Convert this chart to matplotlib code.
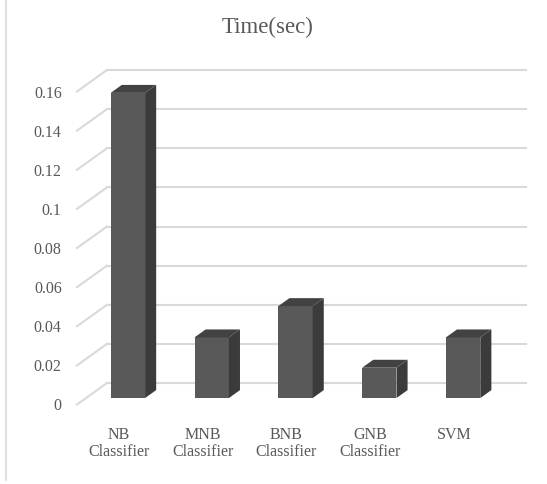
import matplotlib
matplotlib.use("Agg")
import matplotlib.pyplot as plt
from matplotlib.patches import Polygon
from matplotlib.lines import Line2D

categories = ["NB\nClassifier", "MNB\nClassifier", "BNB\nClassifier", "GNB\nClassifier", "SVM"]
times = [0.156, 0.031, 0.047, 0.0155, 0.031]
yticks = [0, 0.02, 0.04, 0.06, 0.08, 0.1, 0.12, 0.14, 0.16]
title = "Time(sec)"

W, H, DPI = 547, 484, 100
plt.rcParams['font.family'] = ['Liberation Serif', 'DejaVu Serif']
TXT = '#595959'
GRID = '#d9d9d9'
FRONT = '#595959'
SIDE = '#3b3b3b'
TOP = '#424242'

fig = plt.figure(figsize=(W / DPI, H / DPI), dpi=DPI)
fig.patch.set_facecolor('white')

# front plane in pixel coordinates (from top)
x_left, x_right = 77, 496
y_zero, y_top = 404.5, 91.5
ax = fig.add_axes([x_left / W, (H - y_zero) / H, (x_right - x_left) / W, (y_zero - y_top) / H])
ax.set_xlim(-0.5, len(categories) - 0.5)
ax.set_ylim(0, 0.16)
ax.set_facecolor('none')
for s in ax.spines.values():
    s.set_visible(False)

# depth offsets (pixels) -> data units
ppx = (x_right - x_left) / len(categories)
ppy = (y_zero - y_top) / 0.16
DEPTH_X, DEPTH_Y = 30, 21.5
ddx, ddy = DEPTH_X / ppx, DEPTH_Y / ppy
f_front, f_back = 0.30, 0.67
xmin, xmax = -0.5, len(categories) - 0.5

# gridlines: floor-side diagonal + back wall
for v in yticks:
    ax.add_line(Line2D([xmin, xmin + ddx], [v, v + ddy], color=GRID, lw=1.5, zorder=1, clip_on=False))
    ax.add_line(Line2D([xmin + ddx, xmax + ddx], [v + ddy, v + ddy], color=GRID, lw=1.5, zorder=1, clip_on=False))

# 3D bars
w = 0.41
fx, fy = f_front * ddx, f_front * ddy
bx, by = f_back * ddx, f_back * ddy
xs = list(range(len(categories)))
ax.bar([x + fx for x in xs], times, width=w, bottom=fy, color=FRONT, zorder=3, clip_on=False)
for x, v in zip(xs, times):
    l, r = x + fx - w / 2, x + fx + w / 2
    side = Polygon([(r, fy), (r, v + fy), (r - fx + bx, v + by), (r - fx + bx, by)],
                   closed=True, facecolor=SIDE, edgecolor='none', zorder=3, clip_on=False)
    top = Polygon([(l, v + fy), (r, v + fy), (r - fx + bx, v + by), (l - fx + bx, v + by)],
                  closed=True, facecolor=TOP, edgecolor='none', zorder=3, clip_on=False)
    ax.add_patch(side)
    ax.add_patch(top)

ax.set_yticks(yticks)
ax.set_yticklabels([f"{v:g}" for v in yticks])
ax.set_xticks(xs)
ax.set_xticklabels(categories)
ax.tick_params(axis='y', length=0, pad=11, labelsize=11.5, labelcolor=TXT)
ax.tick_params(axis='x', length=0, pad=16, labelsize=11.5, labelcolor=TXT)
for lab in ax.get_xticklabels():
    lab.set_verticalalignment('top')
    lab.set_linespacing(1.12)

fig.text(267.5 / W, 1 - 27 / H, title, ha='center', va='center', fontsize=16.5, color=TXT)

# chart-area border on the left
fig.add_artist(Line2D([5.5 / W, 5.5 / W], [1.0, 1 - 480 / H], color=GRID, lw=1.2))

fig.savefig('out.png', dpi=DPI)
